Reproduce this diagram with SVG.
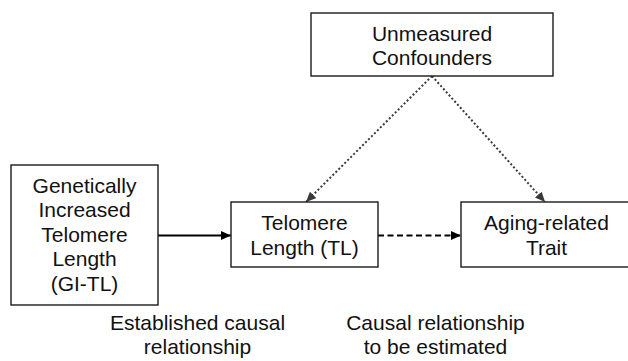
<svg xmlns="http://www.w3.org/2000/svg" width="628" height="361" viewBox="0 0 628 361">
<style>
  .box { fill: #fff; stroke: #1a1a1a; stroke-width: 1.4; }
  .lbl { font-family: "Liberation Sans", Arial, sans-serif; font-size: 21px; fill: #111; text-anchor: middle; }
  .solid { stroke: #000; stroke-width: 2.2; fill: none; }
  .dash { stroke: #000; stroke-width: 2.2; stroke-dasharray: 6 3.5; fill: none; }
  .dot { stroke: #3a3a3a; stroke-width: 2; stroke-dasharray: 2 2.2; fill: none; }
</style>
<defs>
  <marker id="ah" markerUnits="userSpaceOnUse" markerWidth="11" markerHeight="10" refX="10" refY="4.5" orient="auto">
    <path d="M0,0 L10,4.5 L0,9 z" fill="#000"/>
  </marker>
  <marker id="ahg" markerUnits="userSpaceOnUse" markerWidth="11" markerHeight="10" refX="10" refY="4.5" orient="auto">
    <path d="M0,0 L10,4.5 L0,9 z" fill="#3a3a3a"/>
  </marker>
</defs>
<rect width="628" height="361" fill="#fff"/>

<g id="connectors">
  <line class="solid" x1="158" y1="235.5" x2="231" y2="235.5" marker-end="url(#ah)"/>
  <line class="dash" x1="378" y1="235.5" x2="461" y2="235.5" marker-end="url(#ah)"/>
  <line class="dot" x1="432" y1="76" x2="306" y2="202" marker-end="url(#ahg)"/>
  <line class="dot" x1="432" y1="76" x2="545" y2="202" marker-end="url(#ahg)"/>
</g>

<g id="gi-tl">
  <rect class="box" x="11" y="165" width="147" height="140"/>
  <text class="lbl" x="84.5" y="192.5">Genetically</text>
  <text class="lbl" x="84.5" y="217">Increased</text>
  <text class="lbl" x="84.5" y="241.5">Telomere</text>
  <text class="lbl" x="84.5" y="266">Length</text>
  <text class="lbl" x="84.5" y="290.5">(GI-TL)</text>
</g>

<g id="confounders">
  <rect class="box" x="311" y="13" width="242" height="63"/>
  <text class="lbl" x="432" y="40.5">Unmeasured</text>
  <text class="lbl" x="432" y="65">Confounders</text>
</g>

<g id="tl">
  <rect class="box" x="231" y="202" width="147" height="65"/>
  <text class="lbl" x="304.5" y="230">Telomere</text>
  <text class="lbl" x="304.5" y="254.5">Length (TL)</text>
</g>

<g id="trait">
  <rect class="box" x="461" y="202" width="171" height="65"/>
  <text class="lbl" x="546.5" y="230">Aging-related</text>
  <text class="lbl" x="546.5" y="254.5">Trait</text>
</g>

<g id="label-established">
  <text class="lbl" x="197.5" y="330">Established causal</text>
  <text class="lbl" x="197.5" y="354">relationship</text>
</g>

<g id="label-estimated">
  <text class="lbl" x="435.5" y="330">Causal relationship</text>
  <text class="lbl" x="435.5" y="354">to be estimated</text>
</g>
</svg>
